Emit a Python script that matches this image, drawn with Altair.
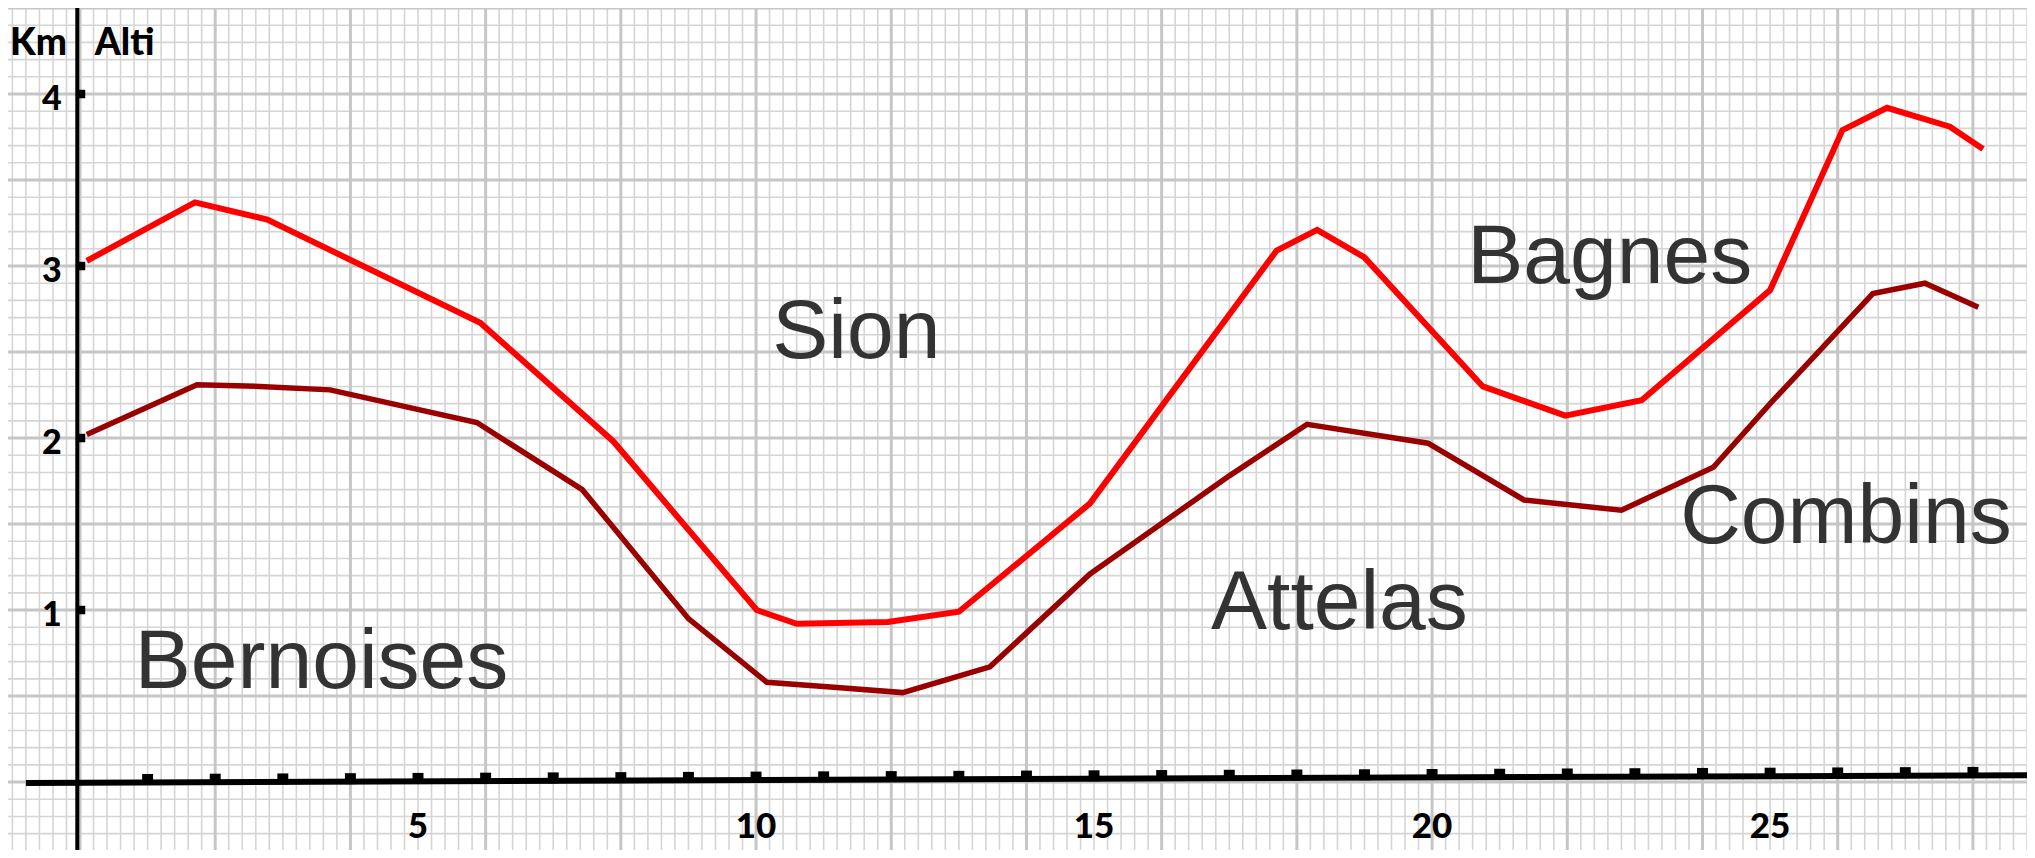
import altair as alt
import pandas as pd
import numpy as np

# ---- series (x in km along profile, y = altitude in km) ----
red_x = [0.1, 1.7, 2.77, 5.92, 7.89, 10.01, 10.6, 11.95, 13.0, 14.94, 17.7, 18.3, 19.0, 20.75, 21.97, 23.1, 25.0, 26.07, 26.73, 27.66, 28.15]
red_y = [3.03, 3.37, 3.27, 2.67, 1.98, 1.0, 0.92, 0.93, 0.99, 1.62, 3.09, 3.21, 3.05, 2.3, 2.13, 2.22, 2.86, 3.79, 3.92, 3.81, 3.68]

dark_x = [0.1, 1.73, 2.66, 3.7, 5.87, 7.43, 9.0, 10.16, 11.2, 12.17, 13.46, 14.94, 17.0, 18.15, 19.94, 21.36, 22.8, 24.16, 25.0, 26.52, 27.29, 28.08]
dark_y = [2.02, 2.31, 2.30, 2.28, 2.09, 1.70, 0.95, 0.58, 0.55, 0.52, 0.67, 1.21, 1.78, 2.08, 1.97, 1.64, 1.58, 1.83, 2.2, 2.84, 2.90, 2.76]

# ---- annotations ----
region_names = ["Bernoises", "Sion", "Attelas", "Bagnes", "Combins"]
region_x = [0.81, 10.24, 16.73, 20.52, 23.67]
region_y = [0.547, 2.465, 0.887, 2.90, 1.39]

header_labels = ["Km", "Alti"]
header_x = [-1.035, 0.22]
header_y = [4.227, 4.227]

x_tick_values = [5, 10, 15, 20, 25]
x_tick_labels = ["5", "10", "15", "20", "25"]
y_tick_values = [1, 2, 3, 4]
y_tick_labels = ["1", "2", "3", "4"]
x_tick_marks = list(range(1, 29))

X_DOM = [-1.065, 28.8]
Y_DOM = [-0.395, 4.5]
xs = alt.Scale(domain=X_DOM, nice=False, zero=False)
ys = alt.Scale(domain=Y_DOM, nice=False, zero=False)

# ---- graph paper ----
minor_v = [round(v, 2) for v in np.arange(-1.0, 28.81, 0.2)]
major_v = [v for v in range(0, 29, 2)]
minor_h = [round(v, 2) for v in np.arange(-0.3, 4.51, 0.1)]
major_h = [v / 2 for v in range(0, 10)]

grid_minor_v = alt.Chart(pd.DataFrame({"gx": minor_v})).mark_rule(
    color="#d5d5d5", strokeWidth=1.6).encode(x=alt.X("gx:Q", scale=xs, axis=None))
grid_minor_h = alt.Chart(pd.DataFrame({"gy": minor_h})).mark_rule(
    color="#d5d5d5", strokeWidth=1.6).encode(y=alt.Y("gy:Q", scale=ys, axis=None))
grid_major_v = alt.Chart(pd.DataFrame({"gx": major_v})).mark_rule(
    color="#c6c6c6", strokeWidth=3).encode(x=alt.X("gx:Q", scale=xs, axis=None))
grid_major_h = alt.Chart(pd.DataFrame({"gy": major_h})).mark_rule(
    color="#c6c6c6", strokeWidth=3).encode(y=alt.Y("gy:Q", scale=ys, axis=None))

# ---- axes ----
xaxis_df = pd.DataFrame({"x": [-0.8], "x2": [28.8], "y": [-0.005], "y2": [0.04]})
x_axis = alt.Chart(xaxis_df).mark_rule(color="black", strokeWidth=6).encode(
    x=alt.X("x:Q", scale=xs, axis=None), x2="x2:Q",
    y=alt.Y("y:Q", scale=ys, axis=None), y2="y2:Q")

yaxis_df = pd.DataFrame({"x": [-0.04], "y": [-0.395], "y2": [4.5]})
y_axis = alt.Chart(yaxis_df).mark_rule(color="black", strokeWidth=4).encode(
    x=alt.X("x:Q", scale=xs, axis=None),
    y=alt.Y("y:Q", scale=ys, axis=None), y2="y2:Q")

xt_df = pd.DataFrame({"x": x_tick_marks})
xt_df["y"] = -0.005 + 0.045 * (xt_df["x"] + 0.8) / 29.6
x_ticks = alt.Chart(xt_df).mark_square(color="black", size=120, opacity=1, yOffset=-3).encode(
    x=alt.X("x:Q", scale=xs, axis=None), y=alt.Y("y:Q", scale=ys, axis=None))

yt_df = pd.DataFrame({"x": [0.0] * len(y_tick_values), "y": y_tick_values})
y_ticks = alt.Chart(yt_df).mark_square(color="black", size=72, opacity=1, xOffset=1).encode(
    x=alt.X("x:Q", scale=xs, axis=None), y=alt.Y("y:Q", scale=ys, axis=None))

xl_df = pd.DataFrame({"x": x_tick_values, "y": [-0.26] * 5, "t": x_tick_labels})
x_labels = alt.Chart(xl_df).mark_text(font="Lato", fontWeight=900, fontSize=35,
                                      color="black", align="center", baseline="middle").encode(
    x=alt.X("x:Q", scale=xs, axis=None), y=alt.Y("y:Q", scale=ys, axis=None), text="t:N")

yl_df = pd.DataFrame({"x": [-0.27] * 4, "y": y_tick_values, "t": y_tick_labels})
y_labels = alt.Chart(yl_df).mark_text(font="Lato", fontWeight=900, fontSize=34,
                                      color="black", align="right", baseline="middle", dy=6).encode(
    x=alt.X("x:Q", scale=xs, axis=None), y=alt.Y("y:Q", scale=ys, axis=None), text="t:N")

hd_df = pd.DataFrame({"x": header_x, "y": header_y, "t": header_labels})
headers = alt.Chart(hd_df).mark_text(font="Lato", fontWeight=900, fontSize=37,
                                     color="black", align="left", baseline="alphabetic").encode(
    x=alt.X("x:Q", scale=xs, axis=None), y=alt.Y("y:Q", scale=ys, axis=None), text="t:N")

# ---- profile lines ----
red_df = pd.DataFrame({"x": red_x, "y": red_y, "o": range(len(red_x))})
dark_df = pd.DataFrame({"x": dark_x, "y": dark_y, "o": range(len(dark_x))})

red_line = alt.Chart(red_df).mark_line(color="#ff0000", strokeWidth=6, strokeJoin="miter").encode(
    x=alt.X("x:Q", scale=xs, axis=None), y=alt.Y("y:Q", scale=ys, axis=None), order="o:Q")
dark_line = alt.Chart(dark_df).mark_line(color="#990000", strokeWidth=5.5, strokeJoin="miter").encode(
    x=alt.X("x:Q", scale=xs, axis=None), y=alt.Y("y:Q", scale=ys, axis=None), order="o:Q")

rg_df = pd.DataFrame({"x": region_x, "y": region_y, "t": region_names})
regions = alt.Chart(rg_df).mark_text(font="Liberation Sans", fontSize=84, color="#333333",
                                     align="left", baseline="alphabetic").encode(
    x=alt.X("x:Q", scale=xs, axis=None), y=alt.Y("y:Q", scale=ys, axis=None), text="t:N")

chart = alt.layer(
    grid_minor_v, grid_minor_h, grid_major_v, grid_major_h,
    x_axis, y_axis, x_ticks, y_ticks,
    dark_line, red_line,
    x_labels, y_labels, headers, regions,
).properties(
    width=2019, height=842, padding=0,
    autosize=alt.AutoSizeParams(type="none"),
    background="white",
).configure_view(strokeWidth=0)

chart.save("out.html", embed_options={"renderer": "svg", "actions": False})
